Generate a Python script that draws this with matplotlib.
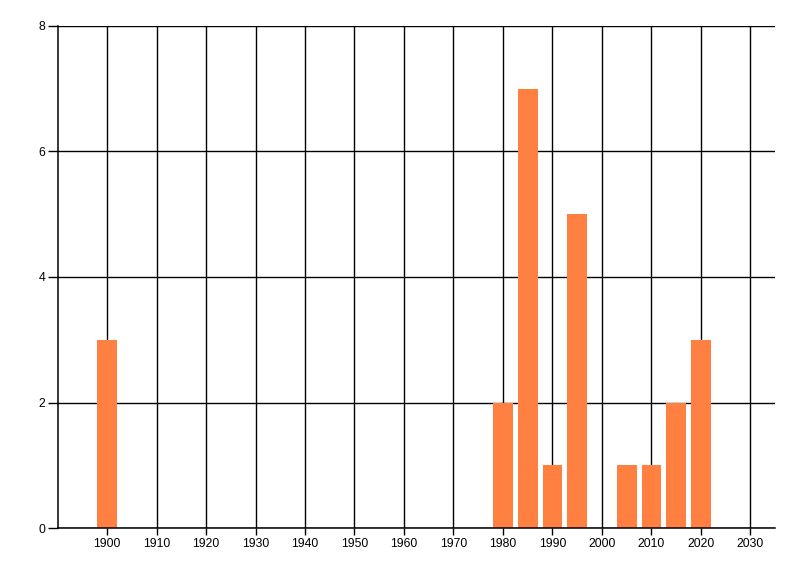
import matplotlib
matplotlib.use("Agg")
import matplotlib.pyplot as plt

years = [1900, 1980, 1985, 1990, 1995, 2005, 2010, 2015, 2020]
counts = [3, 2, 7, 1, 5, 1, 1, 2, 3]
x_ticks = list(range(1900, 2031, 10))
y_ticks = [0, 2, 4, 6, 8]

plt.rcParams['font.family'] = ['Liberation Sans', 'DejaVu Sans']

fig = plt.figure(figsize=(8, 5.76), dpi=100)
ax = fig.add_axes([0.0719, 0.0833, 0.8971, 0.8716])

ax.set_xlim(1890, 2035)
ax.set_ylim(0, 8)
ax.set_xticks(x_ticks)
ax.set_yticks(y_ticks)
ax.grid(True, color='black', linewidth=1)
ax.set_axisbelow(True)

ax.bar(years, counts, width=4, color='#FF8040', zorder=3)

for side in ['top', 'right']:
    ax.spines[side].set_visible(False)
for side in ['left', 'bottom']:
    ax.spines[side].set_linewidth(1.1)
    ax.spines[side].set_zorder(4)

ax.tick_params(axis='y', length=7, width=1, labelsize=8.8, pad=2)
ax.tick_params(axis='x', length=5, width=1, labelsize=8.8, pad=2)

fig.savefig('out.png', dpi=100)
